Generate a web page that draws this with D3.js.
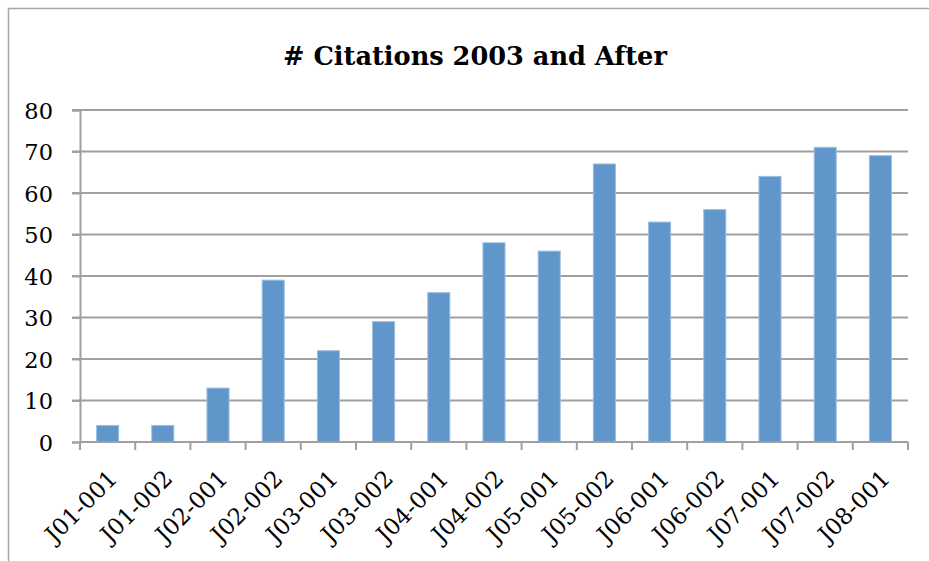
<!DOCTYPE html>
<html>
<head>
<meta charset="utf-8">
<script src="https://cdn.jsdelivr.net/npm/d3@7"></script>
<style>
  html, body { margin: 0; padding: 0; background: #fff; }
  svg { display: block; }
  text { font-family: "DejaVu Serif", "Liberation Serif", serif; fill: #000; }
</style>
</head>
<body>
<script>
// Citation counts per item, 2003 onward
const categories = ["J01-001", "J01-002", "J02-001", "J02-002", "J03-001", "J03-002", "J04-001",
  "J04-002", "J05-001", "J05-002", "J06-001", "J06-002", "J07-001", "J07-002", "J08-001"];
const citations = [4, 4, 13, 39, 22, 29, 36, 48, 46, 67, 53, 56, 64, 71, 69];
const yTicks = [0, 10, 20, 30, 40, 50, 60, 70, 80];
const chartTitle = "# Citations 2003 and After";

const W = 929, H = 561;
const plot = { left: 80, right: 908, top: 110, bottom: 442 };
const serif = "DejaVu Serif, Liberation Serif, serif";

const svg = d3.select("body").append("svg").attr("width", W).attr("height", H);

// outer chart frame
svg.append("rect")
  .attr("x", 8.5).attr("y", 8.5)
  .attr("width", W + 20).attr("height", H + 20)
  .attr("fill", "none").attr("stroke", "#a6a6a6").attr("stroke-width", 1.5);

// title, sized to span its slot
const title = svg.append("text")
  .attr("x", 475).attr("y", 65)
  .attr("text-anchor", "middle")
  .attr("font-size", 26).attr("font-weight", "bold")
  .text(chartTitle);
const tLen = title.node().getComputedTextLength();
title.attr("font-size", 26 * 384 / tLen);

const x = d3.scaleBand().domain(categories).range([plot.left, plot.right]).paddingInner(0.6).paddingOuter(0.3);
const xTick = d3.scaleBand().domain(categories).range([plot.left, plot.right]);
const y = d3.scaleLinear().domain([0, 80]).range([plot.bottom, plot.top]);

// horizontal gridlines
svg.append("g").selectAll("line").data(yTicks.filter(d => d > 0)).join("line")
  .attr("x1", plot.left - 8).attr("x2", plot.right)
  .attr("y1", d => y(d)).attr("y2", d => y(d))
  .attr("stroke", "#a0a0a0").attr("stroke-width", 2);

// y axis
const yAxis = svg.append("g").attr("transform", `translate(${plot.left},0)`)
  .call(d3.axisLeft(y).tickValues(yTicks).tickSize(8).tickPadding(19));
yAxis.attr("font-family", serif);
yAxis.select(".domain").attr("stroke", "#a0a0a0").attr("stroke-width", 2);
yAxis.selectAll(".tick line").attr("stroke", "#a0a0a0").attr("stroke-width", 2);
yAxis.selectAll(".tick text").attr("font-size", 22.5).attr("dy", "0.36em");

// bars
svg.append("g").selectAll("rect").data(categories).join("rect")
  .attr("x", d => x(d))
  .attr("width", x.bandwidth())
  .attr("y", (d, i) => y(citations[i]))
  .attr("height", (d, i) => y(0) - y(citations[i]))
  .attr("fill", "#6196cb")
  .attr("stroke", "#9dbfe3").attr("stroke-width", 1);

// x axis
const xAxisG = svg.append("g").attr("transform", `translate(0,${plot.bottom})`);
xAxisG.append("line")
  .attr("x1", plot.left).attr("x2", plot.right)
  .attr("stroke", "#a0a0a0").attr("stroke-width", 2);
const tickPos = categories.map(c => xTick(c)).concat([plot.right]);
xAxisG.selectAll("line.tick").data(tickPos).join("line")
  .attr("class", "tick")
  .attr("x1", d => d).attr("x2", d => d)
  .attr("y1", 0).attr("y2", 8)
  .attr("stroke", "#a0a0a0").attr("stroke-width", 2);
xAxisG.selectAll("text").data(categories).join("text")
  .attr("font-size", 23)
  .attr("text-anchor", "end")
  .attr("transform", d => `translate(${xTick(d) + xTick.bandwidth() / 2 + 11},${38}) rotate(-45)`)
  .text(d => d);
</script>
</body>
</html>
